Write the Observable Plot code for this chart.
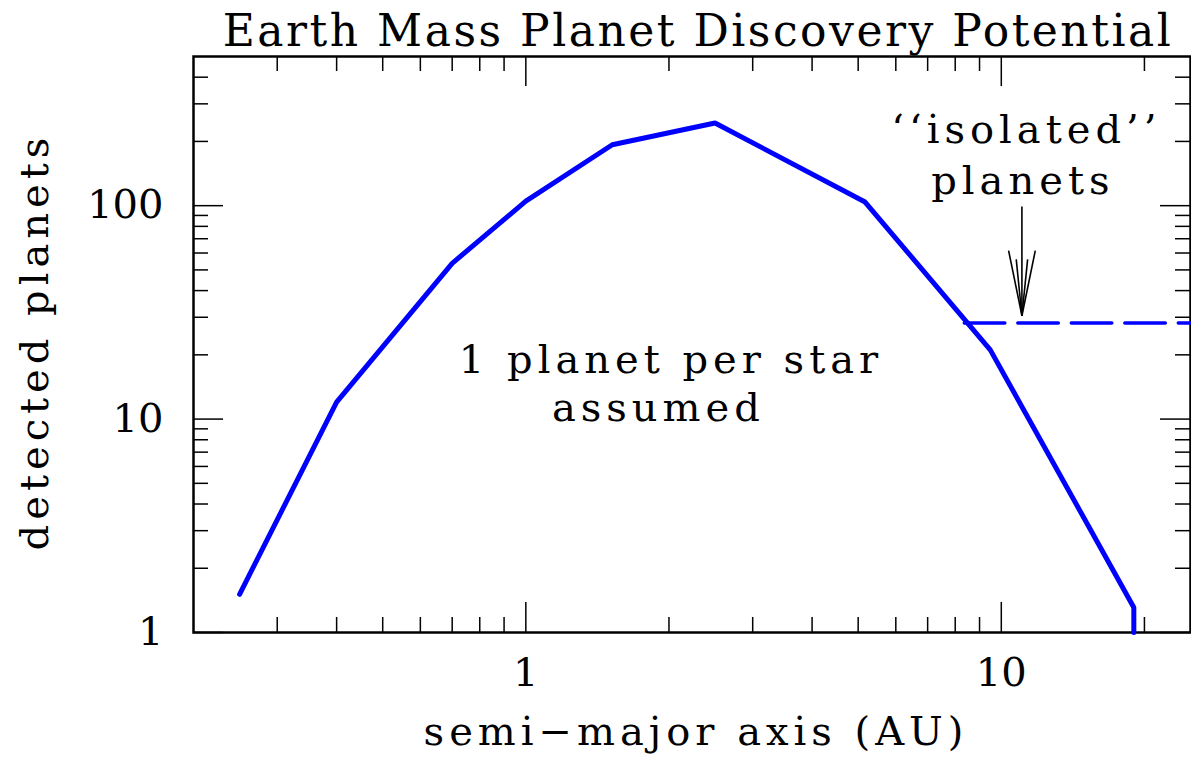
<!DOCTYPE html>
<html>
<head>
<meta charset="utf-8">
<script src="https://cdn.jsdelivr.net/npm/d3@7"></script>
<script src="https://cdn.jsdelivr.net/npm/@observablehq/plot@0.6"></script>
<style>
html, body { margin: 0; padding: 0; background: #fff; }
#wrap { width: 1191px; height: 761px; overflow: hidden; }
#title {
  font-family: "DejaVu Serif", serif; font-size: 44px; color: #000;
  height: 50px; line-height: 50px; text-align: center; white-space: nowrap;
  width: 1191px; padding-left: 205px; box-sizing: border-box; letter-spacing: 2.5px;
  position: relative; top: 6px;
}
svg text { letter-spacing: 5px; }
svg g[aria-label^="y-axis"] text, svg g[aria-label^="x-axis"] text { letter-spacing: 0px; }
</style>
</head>
<body>
<div id="wrap">
  <div id="title">Earth Mass Planet Discovery Potential</div>
  <div id="chart"></div>
</div>
<script>
// main curve: detected planets vs semi-major axis (AU)
const semiMajorAxis   = [0.25, 0.40, 0.70, 1.00, 1.52, 2.50, 5.17, 9.48, 19.0, 19.0];
const detectedPlanets = [1.51, 12.0, 53.7, 105,  193,  244,  104,  21.1, 1.31, 1.0];

// "isolated" planets level (dashed)
const isolatedAxis    = [8.36, 25];
const isolatedPlanets = [28.2, 28.2];

// axis ticks
const xMajorTicks = [1, 10];
const xMinorTicks = [0.3, 0.4, 0.5, 0.6, 0.7, 0.8, 0.9, 2, 3, 4, 5, 6, 7, 8, 9, 20];
const yMajorTicks = [1, 10, 100];
const yMinorTicks = [2, 3, 4, 5, 6, 7, 8, 9, 20, 30, 40, 50, 60, 70, 80, 90, 200, 300, 400];

// annotations (data coordinates)
const noteText = ["1 planet per star", "assumed", "\u2018\u2018isolated\u2019\u2019", "planets"];
const noteX    = [2.02, 1.90, 11.29, 11.1];
const noteY    = [18.8, 11.3, 227, 130];

// arrow pointing at the isolated-planets level
const arrowX1 = [11.05, 10.36, 11.79, 10.75, 11.36];
const arrowY1 = [99,    61.6,  61.6,  56,    56];
const arrowX2 = [11.05, 11.05, 11.05, 11.05, 11.05];
const arrowY2 = [30.5,  30.5,  30.5,  30.5,  30.5];

const curve = semiMajorAxis.map((a, i) => ({a, n: detectedPlanets[i]}));
const isolated = isolatedAxis.map((a, i) => ({a, n: isolatedPlanets[i]}));
const notes = noteText.map((t, i) => ({t, x: noteX[i], y: noteY[i]}));
const arrow = arrowX1.map((x1, i) => ({x1, y1: arrowY1[i], x2: arrowX2[i], y2: arrowY2[i]}));

const W = 1191, H = 711, mT = 6, mB = 129, mL = 193, mR = 1;
const innerH = H - mT - mB, innerW = W - mL - mR;
const minor = 15, major = 30;

const chart = Plot.plot({
  width: W, height: H,
  marginLeft: mL, marginRight: mR, marginTop: mT, marginBottom: mB,
  x: {type: "log", domain: [0.2, 25]},
  y: {type: "log", domain: [1, 500]},
  style: {fontFamily: "DejaVu Serif, serif", fontSize: "40px", color: "#000", background: "#fff", overflow: "visible"},
  marks: [
    // inward ticks on all four sides
    Plot.tickX(xMinorTicks, {x: d => d, insetTop: innerH - minor, stroke: "#000", strokeWidth: 1.5}),
    Plot.tickX(xMajorTicks, {x: d => d, insetTop: innerH - major, stroke: "#000", strokeWidth: 1.5}),
    Plot.tickX(xMinorTicks, {x: d => d, insetBottom: innerH - minor, stroke: "#000", strokeWidth: 1.5}),
    Plot.tickX(xMajorTicks, {x: d => d, insetBottom: innerH - major, stroke: "#000", strokeWidth: 1.5}),
    Plot.tickY(yMinorTicks, {y: d => d, insetRight: innerW - minor, stroke: "#000", strokeWidth: 1.5}),
    Plot.tickY(yMajorTicks, {y: d => d, insetRight: innerW - major, stroke: "#000", strokeWidth: 1.5}),
    Plot.tickY(yMinorTicks, {y: d => d, insetLeft: innerW - minor, stroke: "#000", strokeWidth: 1.5}),
    Plot.tickY(yMajorTicks, {y: d => d, insetLeft: innerW - major, stroke: "#000", strokeWidth: 1.5}),
    Plot.frame({stroke: "#000", strokeWidth: 2.5}),
    Plot.axisX({ticks: xMajorTicks, tickSize: 0, tickPadding: 25, tickFormat: d => String(d), label: null, fontSize: 40}),
    Plot.axisY({ticks: yMajorTicks, tickSize: 0, tickPadding: 30, tickFormat: d => String(d), label: null, fontSize: 40}),
    // curves
    Plot.line(curve, {x: "a", y: "n", stroke: "#0000ff", strokeWidth: 5, strokeLinejoin: "miter"}),
    Plot.line(isolated, {x: "a", y: "n", stroke: "#0000ff", strokeWidth: 3.5, strokeDasharray: "40.5,13"}),
    // arrow
    Plot.link(arrow, {x1: "x1", y1: "y1", x2: "x2", y2: "y2", stroke: "#000", strokeWidth: 1.6}),
    // annotations
    Plot.text(notes, {x: "x", y: "y", text: "t", fontSize: 40, fill: "#000"}),
    // axis titles
    Plot.text(["semi\u2212major axis (AU)"], {frameAnchor: "bottom", textAnchor: "middle", lineAnchor: "middle", dx: 4, dy: 100, fontSize: 40, fill: "#000"}),
    Plot.text(["detected planets"], {frameAnchor: "left", textAnchor: "middle", lineAnchor: "middle", dx: -158, dy: -3, rotate: -90, fontSize: 40, fill: "#000"})
  ]
});
document.getElementById("chart").appendChild(chart);
</script>
</body>
</html>
